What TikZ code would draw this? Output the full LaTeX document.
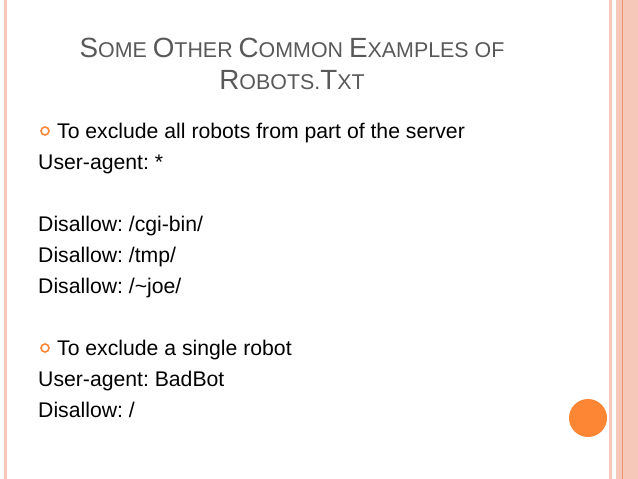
\documentclass[tikz,border=0pt]{standalone}
\usepackage{fontspec}
\setmainfont{Liberation Sans}
\definecolor{pk}{RGB}{246,200,185}
\definecolor{pkd}{RGB}{236,150,120}
\definecolor{org}{RGB}{253,134,52}
\definecolor{ttl}{RGB}{89,89,89}
\begin{document}
\frenchspacing
\begin{tikzpicture}[x=1pt,y=-1pt,
 body/.style={anchor=base west,inner sep=0pt,font=\fontsize{21.2}{23}\selectfont},
 bul/.style={circle,draw=org,line width=1.6pt,minimum size=8pt,inner sep=0pt}]
\useasboundingbox (0,0) rectangle (638,479);
\fill[pk] (3.5,0) rectangle (6.5,479);
\fill[pk] (609,0) rectangle (612,479);
\fill[pk] (616,0) rectangle (638,479);
\draw[pkd,line width=0.7pt] (622,0) -- (622,479);
\node[circle,fill=org,minimum size=38pt,inner sep=0pt] (dot) at (588,418) {};
\newcommand{\bg}[1]{{\fontsize{27.8}{30}\selectfont #1}}
\node[anchor=base,inner sep=0pt,text=ttl,font=\fontsize{21.4}{23}\selectfont] (t1) at (292,57) {\bg{S}OME \bg{O}THER \bg{C}OMMON \bg{E}XAMPLES OF};
\node[anchor=base,inner sep=0pt,text=ttl,font=\fontsize{21.4}{23}\selectfont] (t2) at (292,89) {\bg{R}OBOTS.\bg{T}XT};
\node[bul] (b1) at (45,131) {};
\node[body] (l1) at (57,138) {To exclude all robots from part of the server};
\node[body] (l2) at (38,169) {User-agent: *};
\node[body] (l3) at (38,231) {Disallow: /cgi-bin/};
\node[body] (l4) at (38,262) {Disallow: /tmp/};
\node[body] (l5) at (38,293) {Disallow: /\textasciitilde joe/};
\node[bul] (b2) at (45,348) {};
\node[body] (l6) at (57,355) {To exclude a single robot};
\node[body] (l7) at (38,386) {User-agent: BadBot};
\node[body] (l8) at (38,417) {Disallow: /};
\end{tikzpicture}
\end{document}
